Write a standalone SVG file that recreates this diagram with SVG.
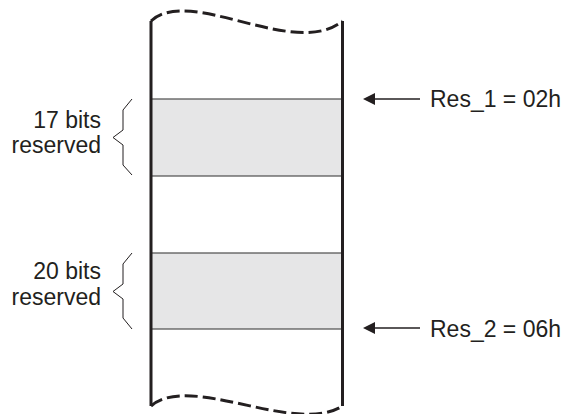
<svg xmlns="http://www.w3.org/2000/svg" width="567" height="414" viewBox="0 0 567 414">
<style>
text{font-family:"Liberation Sans",Arial,sans-serif;font-size:23px;fill:#231f20}
.band{fill:#e6e6e7;stroke:#4d4d4d;stroke-width:1.2}
.wall{stroke:#231f20;stroke-width:3;fill:none}
.wave{stroke:#231f20;stroke-width:3;fill:none;stroke-dasharray:13 5}
.brace{stroke:#231f20;stroke-width:1;fill:none}
.arr{stroke:#231f20;stroke-width:1.3;fill:none}
.head{fill:#231f20}
</style>
<rect width="567" height="414" fill="#fff"/>
<g id="memory">
<rect class="band" x="151" y="99" width="191.5" height="77"/>
<rect class="band" x="151" y="253" width="191.5" height="76"/>
<path class="wall" d="M151,21 V406 M342.5,21 V406"/>
<path class="wave" d="M151,21 C190,-15 295,60 342.5,21"/>
<path class="wave" d="M151,406 C190,372 295,436 342.5,406"/>
</g>
<g id="label1">
<text x="101" y="128" text-anchor="end">17 bits</text>
<text x="101" y="153" text-anchor="end">reserved</text>
<path class="brace" d="M132,99 L123,110 V130 L113,137.5 L123,145 V165 L132,175"/>
</g>
<g id="label2">
<text x="101" y="279" text-anchor="end">20 bits</text>
<text x="101" y="305" text-anchor="end">reserved</text>
<path class="brace" d="M132,253 L123,264 V284 L113,291.5 L123,299 V318 L132,329"/>
</g>
<g id="connectors">
<path class="arr" d="M420,99 H374"/>
<path class="head" d="M363,99 L375,93 L375,105 Z"/>
<path class="arr" d="M420,328 H374"/>
<path class="head" d="M363,328 L375,322 L375,334 Z"/>
</g>
<g id="res1"><text x="430" y="107">Res_1 = 02h</text></g>
<g id="res2"><text x="430" y="336.5">Res_2 = 06h</text></g>
</svg>
